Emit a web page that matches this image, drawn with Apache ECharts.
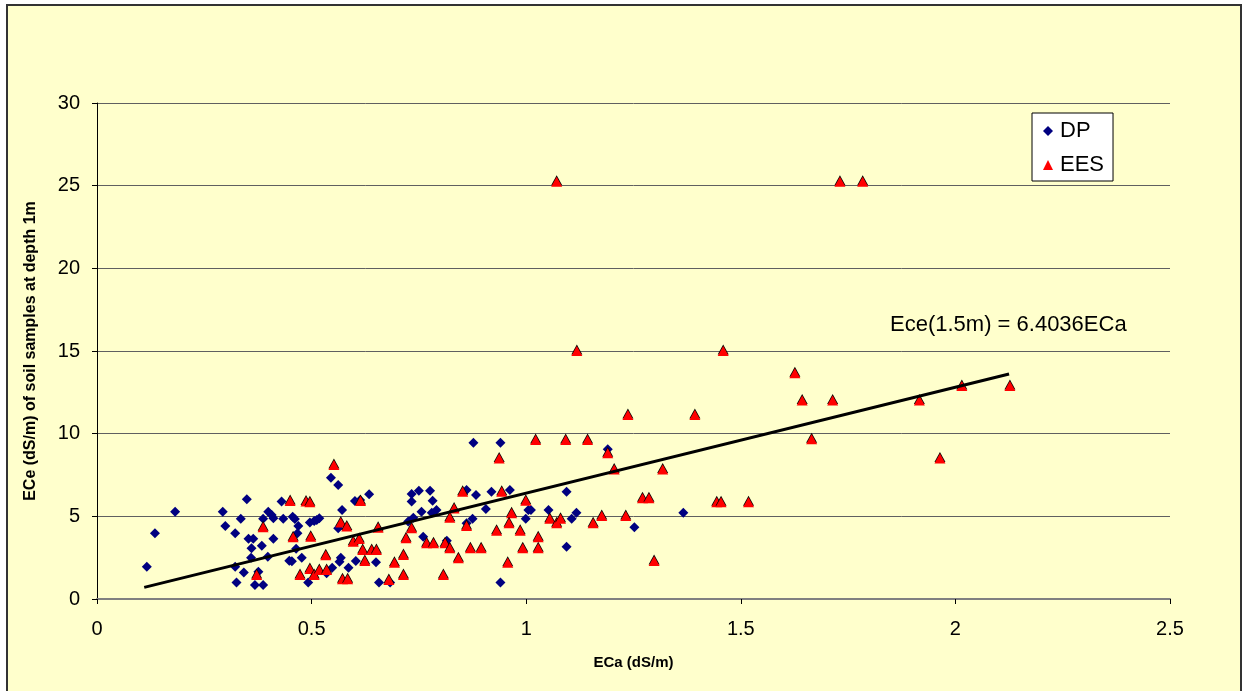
<!DOCTYPE html>
<html>
<head>
<meta charset="utf-8">
<script src="https://cdn.jsdelivr.net/npm/echarts@6/dist/echarts.min.js"></script>
<style>
html,body{margin:0;padding:0;background:#ffffff;}
#chart{width:1244px;height:691px;}
</style>
</head>
<body>
<div id="chart"></div>
<script>
// ---- Data ----
var xTicks = ['0', '0.5', '1', '1.5', '2', '2.5'];
var yTicks = ['0', '5', '10', '15', '20', '25', '30'];

var dpData = [
  [0.116,1.95],[0.135,3.97],[0.182,5.28],[0.293,5.28],[0.349,6.03],[0.299,4.42],[0.335,4.86],
  [0.322,3.97],[0.353,3.65],[0.364,3.65],[0.360,3.07],[0.384,3.22],[0.411,3.65],[0.359,2.50],
  [0.398,2.56],[0.322,1.95],[0.342,1.61],[0.325,1.00],[0.368,0.85],[0.387,0.85],[0.376,1.65],
  [0.399,5.28],[0.407,5.08],[0.411,4.88],[0.387,4.86],[0.434,4.86],[0.430,5.89],[0.448,2.32],
  [0.456,4.98],[0.461,4.84],[0.469,4.42],[0.467,3.97],[0.496,4.62],[0.506,4.72],[0.512,4.78],
  [0.518,4.88],[0.464,3.04],[0.454,2.28],[0.477,2.50],[0.492,1.00],[0.535,1.55],[0.548,1.89],
  [0.545,7.34],[0.562,6.90],[0.571,5.38],[0.562,4.28],[0.568,2.50],[0.565,2.26],[0.586,1.89],
  [0.603,2.30],[0.601,5.93],[0.613,5.99],[0.634,6.33],[0.650,2.22],[0.657,1.00],[0.683,1.00],
  [0.725,4.68],[0.733,6.35],[0.733,5.89],[0.750,6.55],[0.737,4.92],[0.756,5.28],[0.776,6.55],
  [0.782,5.95],[0.780,5.22],[0.791,5.38],[0.760,3.77],[0.815,3.53],[0.861,6.59],[0.883,6.29],
  [0.875,4.86],[0.861,4.58],[0.877,9.45],[0.940,9.45],[1.190,9.05],[0.919,6.49],[0.962,6.59],
  [1.094,6.49],[0.906,5.44],[1.005,5.38],[1.011,5.38],[0.999,4.86],[1.052,5.38],[1.106,4.86],
  [1.117,5.22],[1.094,3.16],[0.940,1.00],[1.252,4.34],[1.366,5.22]
];

var eesData = [
  [0.372,1.45],[0.387,4.34],[0.450,5.93],[0.487,5.90],[0.496,5.85],[0.457,3.73],[0.498,3.77],
  [0.473,1.45],[0.496,1.81],[0.506,1.45],[0.518,1.75],[0.535,1.75],[0.533,2.64],[0.552,8.10],
  [0.568,4.62],[0.582,4.38],[0.572,1.19],[0.584,1.19],[0.597,3.47],[0.611,3.63],[0.619,2.96],
  [0.624,2.30],[0.614,5.93],[0.640,2.96],[0.651,2.96],[0.655,4.31],[0.680,1.15],[0.693,2.20],
  [0.714,2.66],[0.714,1.45],[0.720,3.67],[0.733,4.28],[0.768,3.37],[0.784,3.37],[0.811,3.37],
  [0.822,3.07],[0.842,2.46],[0.807,1.45],[0.822,4.92],[0.832,5.48],[0.852,6.49],[0.861,4.42],
  [0.870,3.07],[0.895,3.07],[1.022,9.62],[1.092,9.62],[1.143,9.62],[0.937,8.50],[1.190,8.81],
  [1.205,7.84],[1.318,7.84],[0.943,6.49],[0.999,5.95],[0.966,5.18],[1.055,4.86],[1.071,4.58],
  [1.080,4.86],[0.960,4.58],[0.931,4.13],[0.986,4.13],[1.028,3.73],[0.992,3.07],[1.028,3.07],
  [0.957,2.20],[1.156,4.58],[1.176,5.02],[1.232,5.02],[1.271,6.09],[1.286,6.09],[1.298,2.30],
  [1.071,25.24],[1.731,25.24],[1.784,25.24],[1.118,15.00],[1.459,15.00],[1.237,11.13],
  [1.393,11.13],[1.626,13.65],[1.643,12.00],[1.714,12.00],[1.665,9.66],[1.444,5.85],
  [1.454,5.85],[1.518,5.85],[1.916,12.00],[2.015,12.88],[2.127,12.88],[1.964,8.50]
];

// Trendline: Ece(1.5m) = 6.4036 ECa (through origin), drawn over the data range
var trendSlope = 6.4036;
var trendX = [0.11, 2.125];
var trendLabel = 'Ece(1.5m) = 6.4036ECa';
var trendData = trendX.map(function (x) { return [x, x * trendSlope]; });

var FONT = '"Liberation Sans", Arial, sans-serif';

var chart = echarts.init(document.getElementById('chart'));
chart.setOption({
  animation: false,
  backgroundColor: '#ffffff',
  graphic: [
    {
      type: 'rect', z: -10,
      shape: { x: 7, y: 5, width: 1234, height: 700 },
      style: { fill: '#FFFFCC', stroke: '#333333', lineWidth: 2 }
    },
    {
      type: 'text', z: 10,
      left: 890, top: 314,
      style: { text: trendLabel, font: '22px ' + FONT, fill: '#000000' }
    }
  ],
  grid: { left: 97, right: 74, top: 103, bottom: 92, containLabel: false },
  legend: {
    orient: 'vertical',
    left: 1032, top: 113,
    backgroundColor: '#ffffff',
    borderColor: '#000000', borderWidth: 1,
    padding: [7, 9, 5, 11],
    itemGap: 12,
    itemWidth: 10, itemHeight: 10,
    data: [
      { name: 'DP', icon: 'diamond', itemStyle: { color: '#000080' } },
      { name: 'EES', icon: 'triangle', itemStyle: { color: '#FF0000' } }
    ],
    textStyle: { fontSize: 22, fontFamily: FONT, color: '#000000', padding: [0, 0, 0, 2] }
  },
  xAxis: {
    type: 'value', min: 0, max: 2.5, interval: 0.5,
    name: 'ECa (dS/m)', nameLocation: 'middle', nameGap: 56,
    nameTextStyle: { fontSize: 15, fontWeight: 'bold', fontFamily: FONT, color: '#000000' },
    axisLine: { onZero: false, lineStyle: { color: '#808080', width: 2 } },
    axisTick: { show: true, inside: false, length: 5, lineStyle: { color: '#000000', width: 1 } },
    axisLabel: {
      margin: 20, fontSize: 20, fontFamily: FONT, color: '#000000',
      formatter: function (v) { var i = Math.round(v / 0.5); return xTicks[i] !== undefined ? xTicks[i] : ''; }
    },
    splitLine: { show: false }
  },
  yAxis: {
    type: 'value', min: 0, max: 30, interval: 5,
    name: 'ECe (dS/m) of soil samples at depth 1m', nameLocation: 'middle', nameGap: 58,
    nameTextStyle: { fontSize: 16, fontWeight: 'bold', fontFamily: FONT, color: '#000000' },
    axisLine: { show: true, onZero: false, lineStyle: { color: '#000000', width: 1 } },
    axisTick: { show: true, inside: false, length: 5, lineStyle: { color: '#000000', width: 1 } },
    axisLabel: {
      margin: 17, fontSize: 20, fontFamily: FONT, color: '#000000',
      formatter: function (v) { var i = Math.round(v / 5); return yTicks[i] !== undefined ? yTicks[i] : ''; }
    },
    splitLine: { show: true, lineStyle: { color: '#606060', width: 1 } }
  },
  series: [
    {
      name: 'DP', type: 'scatter', symbol: 'diamond', symbolSize: 10,
      itemStyle: { color: '#000080', opacity: 1 },
      data: dpData, z: 3
    },
    {
      name: 'EES', type: 'scatter', symbol: 'triangle', symbolSize: [11, 10],
      itemStyle: { color: '#FF0000', opacity: 1, shadowColor: '#000000', shadowBlur: 0, shadowOffsetY: -1.5 },
      data: eesData, z: 4
    },
    {
      name: 'Trend', type: 'line', data: trendData, symbol: 'none',
      lineStyle: { color: '#000000', width: 3 }, z: 5, silent: true
    }
  ]
});
</script>
</body>
</html>
